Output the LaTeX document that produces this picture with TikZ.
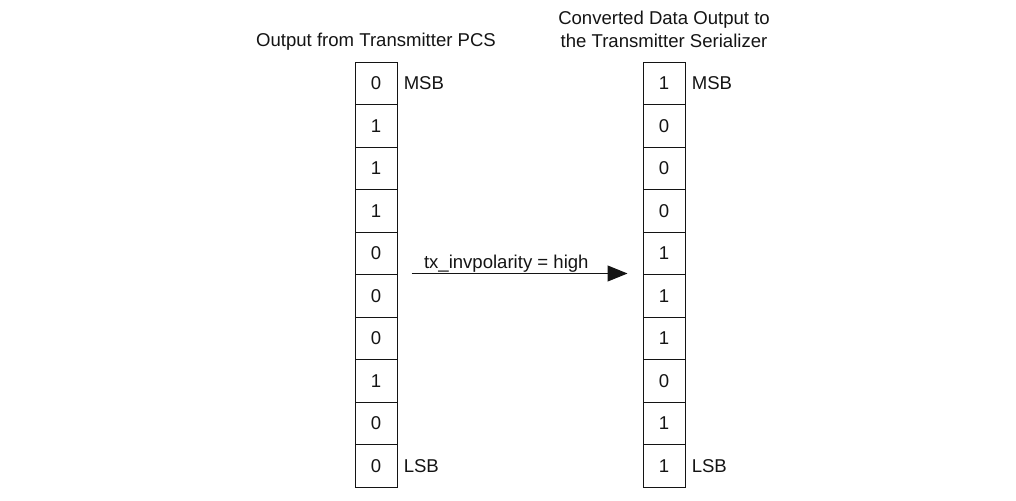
\documentclass[tikz,border=0pt]{standalone}
\usepackage{fontspec}
\setmainfont{Liberation Sans}
\usetikzlibrary{arrows.meta,positioning,calc}
\definecolor{ink}{RGB}{20,20,20}
\tikzset{bitbox/.style={draw=ink,line width=0.7pt,minimum width=1.05cm,minimum height=1.0625cm,inner sep=0pt,font=\fontsize{13.2}{15}\selectfont,text=ink},
  flow/.style={-{Triangle[length=0.5cm,width=0.4cm]},line width=0.7pt,ink},
  labeltext/.style={font=\fontsize{13.2}{15}\selectfont,text=ink,align=center,inner sep=0pt}}

\begin{document}
\begin{tikzpicture}[x=0.025cm,y=-0.025cm]
\useasboundingbox (0,0) rectangle (1016,500);
% bit columns
\foreach \i/\a/\b in {1/0/1,2/1/0,3/1/0,4/1/0,5/0/1,6/0/1,7/0/1,8/1/0,9/0/1,10/0/1}{
  \node[bitbox] (l\i) at (376,{62+42.5*(\i-0.5)}) {\a};
  \node[bitbox] (r\i) at (664,{62+42.5*(\i-0.5)}) {\b};
}
\node[labeltext,anchor=base] (ltitle) at (376,46) {Output from Transmitter PCS};
\node[labeltext,anchor=base] (rtitle) at (664,47) {Converted Data Output to\\[1pt]the Transmitter Serializer};
\node[labeltext,anchor=west] (lmsb) at ($(l1.east)+(6,0)$) {MSB};
\node[labeltext,anchor=west] (llsb) at ($(l10.east)+(6,0)$) {LSB};
\node[labeltext,anchor=west] (rmsb) at ($(r1.east)+(6,0)$) {MSB};
\node[labeltext,anchor=west] (rlsb) at ($(r10.east)+(6,0)$) {LSB};
\draw[flow] ($(l5.south east)+(14,-1.5)$) -- node[labeltext,pos=0,anchor=base west,xshift=0.3cm,yshift=0.13cm] {tx\_invpolarity = high} ($(r5.south west)+(-15,-1.5)$);
\end{tikzpicture}
\end{document}
